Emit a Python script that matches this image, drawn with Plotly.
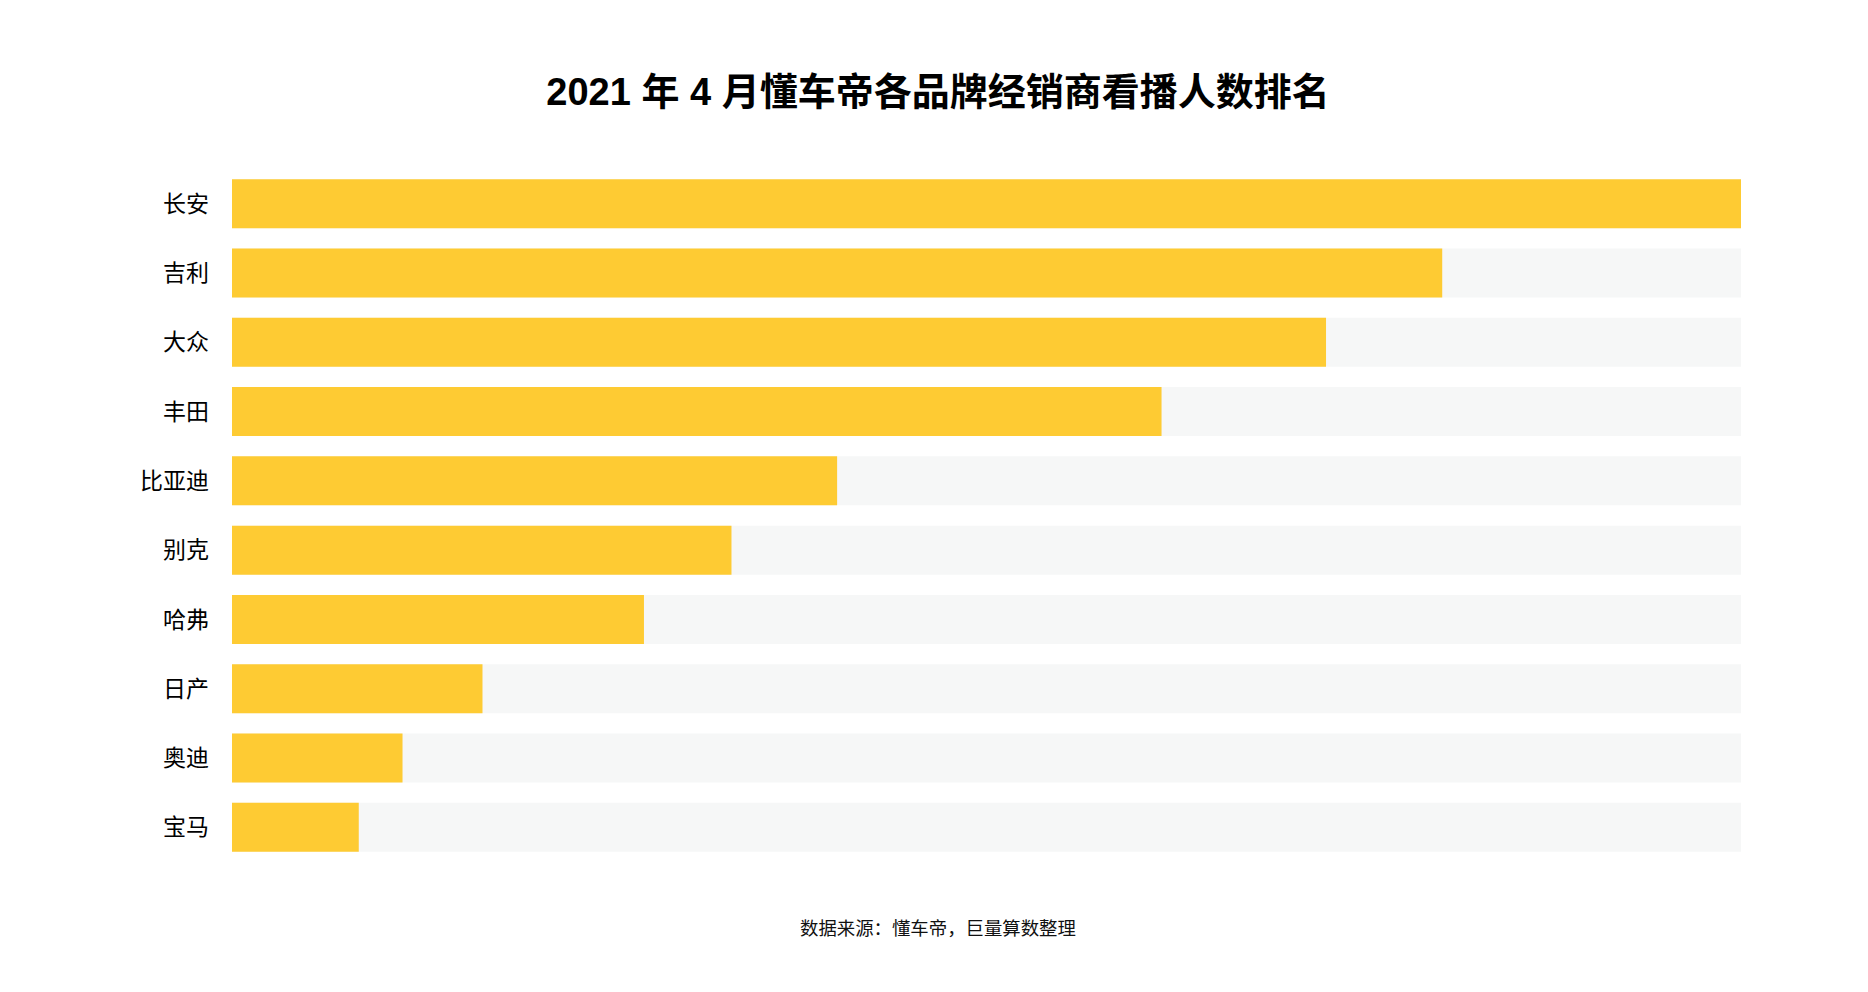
import plotly.graph_objects as go

# Brands, ranked by dealer live-stream viewers (relative to the top brand = 100)
brands = ['长安', '吉利', '大众', '丰田', '比亚迪', '别克', '哈弗', '日产', '奥迪', '宝马']
viewers = [100, 80.2, 72.5, 61.6, 40.1, 33.1, 27.3, 16.6, 11.3, 8.4]
track = [100] * len(brands)

title_text = '2021 年 4 月懂车帝各品牌经销商看播人数排名'
source_text = '数据来源：懂车帝，巨量算数整理'

cjk = 'Noto Sans CJK SC'

# page has an 8px body margin, so the figure is a bit smaller than the window
W, H = 1860, 984
M_L, M_R, M_T, M_B = 224, 127, 161, 130
plot_w = W - M_L - M_R
plot_h = H - M_T - M_B

fig = go.Figure()

# Light grey track behind each bar
fig.add_trace(go.Bar(
    x=track,
    y=brands,
    orientation='h',
    marker=dict(color='#f6f7f7', line=dict(width=0)),
    hoverinfo='skip',
    showlegend=False,
))

# Yellow value bars
fig.add_trace(go.Bar(
    x=viewers,
    y=brands,
    orientation='h',
    marker=dict(color='#fecb33', line=dict(width=0)),
    hovertemplate='%{y}: %{x}<extra></extra>',
    showlegend=False,
))

fig.update_layout(
    width=W,
    height=H,
    barmode='overlay',
    bargap=0.293,
    paper_bgcolor='white',
    plot_bgcolor='white',
    margin=dict(l=M_L, r=M_R, t=M_T, b=M_B),
    font=dict(family=cjk, color='#000000'),
    title=dict(
        text='<b>' + title_text + '</b>',
        x=0.5,
        xanchor='center',
        xref='container',
        y=1 - 84 / H,
        yref='container',
        yanchor='middle',
        font=dict(family='Liberation Sans, ' + cjk, size=38, color='#000000'),
    ),
    xaxis=dict(
        range=[0, 100],
        visible=False,
        showgrid=False,
        zeroline=False,
    ),
    yaxis=dict(
        autorange='reversed',
        showgrid=False,
        zeroline=False,
        showline=False,
        ticks='',
        ticklabelstandoff=22,
        tickfont=dict(family=cjk, size=23, color='#000000'),
    ),
    annotations=[dict(
        text=source_text,
        x=(W / 2 - M_L) / plot_w,
        xref='paper',
        xanchor='center',
        y=(H - M_B - 919) / plot_h,
        yref='paper',
        yanchor='middle',
        showarrow=False,
        font=dict(family=cjk, size=18.4, color='#111111'),
    )],
)

fig.write_html('out.html')
